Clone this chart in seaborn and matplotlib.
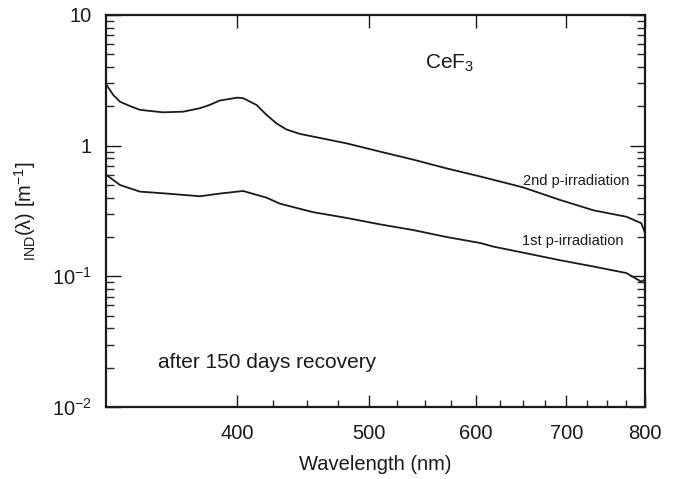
import matplotlib
matplotlib.use("Agg")
import matplotlib.pyplot as plt
import matplotlib.ticker as mticker
import seaborn as sns
import pandas as pd

# ---- data ----
wl_2nd = [320, 324, 327.7, 333.3, 339, 352.5, 364.9, 375, 381.7, 388, 392.9, 400,
          404, 413.3, 420.4, 427.6, 434.9, 445, 482, 510, 540, 571, 605, 650,
          692, 733, 775, 795, 800]
v_2nd = [2.96, 2.44, 2.17, 2.01, 1.88, 1.80, 1.82, 1.93, 2.05, 2.21, 2.26, 2.33,
         2.31, 2.05, 1.72, 1.48, 1.33, 1.23, 1.04, 0.90, 0.78, 0.67, 0.58, 0.48,
         0.385, 0.32, 0.286, 0.255, 0.215]

wl_1st = [320, 327.7, 339, 354.8, 375.4, 388.4, 404, 420.4, 430, 454.9, 481.6,
          509.8, 539.5, 570.9, 604.5, 618, 654, 692, 732.5, 775, 795, 800]
v_1st = [0.60, 0.50, 0.445, 0.43, 0.41, 0.43, 0.45, 0.40, 0.36, 0.31, 0.28,
         0.25, 0.226, 0.20, 0.18, 0.169, 0.150, 0.133, 0.119, 0.106, 0.091, 0.095]

x_ticks = [400, 500, 600, 700, 800]
x_minor = [425, 450, 475, 525, 550, 575, 625, 650, 675, 725, 750, 775]
y_ticks = [0.01, 0.1, 1, 10]
y_labels = ["10$^{\\mathregular{-2}}$", "10$^{\\mathregular{-1}}$", "1", "10"]

sns.set_theme(style="ticks")
plt.rcParams["font.family"] = ["Liberation Sans", "DejaVu Sans"]
plt.rcParams["mathtext.fontset"] = "custom"
plt.rcParams["mathtext.rm"] = "Liberation Sans"
plt.rcParams["mathtext.it"] = "Liberation Sans:italic"
plt.rcParams["mathtext.bf"] = "Liberation Sans:bold"

fig = plt.figure(figsize=(6.78, 4.79), dpi=100)
ax = fig.add_axes([106 / 678, 1 - 407 / 479, 539 / 678, 392 / 479])

df2 = pd.DataFrame({"wl": wl_2nd, "v": v_2nd})
df1 = pd.DataFrame({"wl": wl_1st, "v": v_1st})
sns.lineplot(data=df2, x="wl", y="v", ax=ax, color="#1a1a1a", lw=1.3,
             estimator=None, sort=False)
sns.lineplot(data=df1, x="wl", y="v", ax=ax, color="#1a1a1a", lw=1.3,
             estimator=None, sort=False)

ax.set_xscale("log")
ax.set_yscale("log")
ax.set_xlim(320, 800)
ax.set_ylim(0.01, 10)

ax.xaxis.set_major_locator(mticker.FixedLocator(x_ticks))
ax.xaxis.set_major_formatter(mticker.FixedFormatter([str(t) for t in x_ticks]))
ax.xaxis.set_minor_locator(mticker.FixedLocator(x_minor))
ax.xaxis.set_minor_formatter(mticker.NullFormatter())
ax.yaxis.set_major_locator(mticker.FixedLocator(y_ticks))
ax.yaxis.set_major_formatter(mticker.FixedFormatter(y_labels))
ax.yaxis.set_minor_locator(mticker.LogLocator(base=10, subs=range(2, 10)))
ax.yaxis.set_minor_formatter(mticker.NullFormatter())

for s in ax.spines.values():
    s.set_linewidth(1.6)
    s.set_color("#1a1a1a")

ax.tick_params(axis="x", which="major", direction="in", length=9, width=1.0,
               top=True, bottom=True, labelsize=14.5, pad=12, colors="#1a1a1a")
ax.tick_params(axis="x", which="minor", direction="in", length=5, width=1.0,
               top=False, bottom=True)
ax.tick_params(axis="y", which="major", direction="in", length=11, width=1.0,
               left=True, right=True, labelsize=14.5, pad=10, colors="#1a1a1a")
ax.tick_params(axis="y", which="minor", direction="in", length=6, width=1.0,
               left=True, right=True)

ax.set_xlabel("Wavelength (nm)", fontsize=14.5, color="#1a1a1a", labelpad=9)
ax.set_ylabel("$_{\\mathregular{IND}}$(λ) [m$^{\\mathregular{-1}}$]", fontsize=14.5,
              color="#1a1a1a", labelpad=10)

ax.text(425 / 678, 1 - 63 / 479, "CeF$_{\\mathregular{3}}$", transform=fig.transFigure,
        fontsize=15, ha="left", va="center", color="#1a1a1a")
ax.text(629 / 678, 1 - 181 / 479, "2nd p-irradiation", transform=fig.transFigure,
        fontsize=10.5, ha="right", va="center", color="#1a1a1a")
ax.text(624 / 678, 1 - 241 / 479, "1st p-irradiation", transform=fig.transFigure,
        fontsize=10.5, ha="right", va="center", color="#1a1a1a")
ax.text(158 / 678, 1 - 363 / 479, "after 150 days recovery", transform=fig.transFigure,
        fontsize=15, ha="left", va="center", color="#1a1a1a")

fig.savefig("out.png", dpi=100)
